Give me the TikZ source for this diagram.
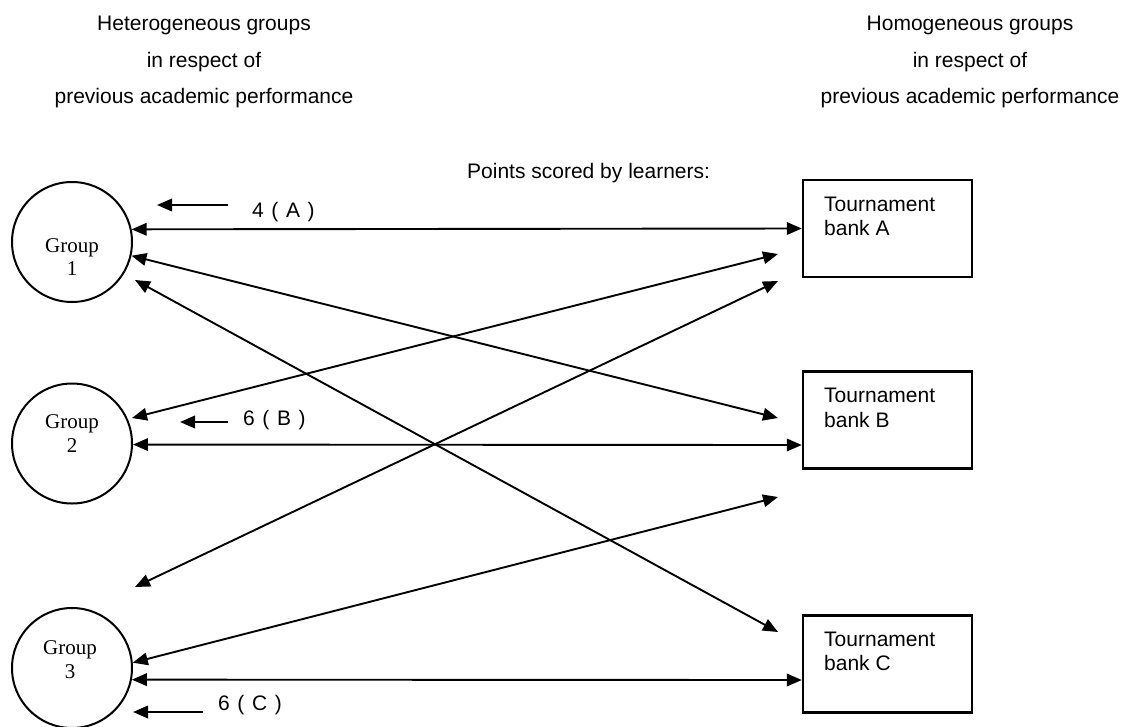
\documentclass[tikz,border=0pt]{standalone}
\usepackage{fontspec}
\newfontfamily\labelsans{Liberation Sans}
\newfontfamily\labelserif{Liberation Serif}
\newcommand\widewordspace{\spaceskip=7.6pt\relax}
\usetikzlibrary{arrows.meta}
\begin{document}
\begin{tikzpicture}[x=1pt,y=-1pt,
  link/.style={line width=1.9pt,
    {Triangle[length=15pt,width=12.5pt]}-{Triangle[length=15pt,width=12.5pt]}},
  pointer/.style={line width=1.9pt,{Triangle[length=15pt,width=12.5pt]}-},
  groupnode/.style={circle,draw,line width=2pt,minimum size=120pt,inner sep=0pt},
  banknode/.style={rectangle,draw,line width=2.4pt,minimum width=169pt,
    minimum height=97pt,inner sep=0pt},
  heading/.style={font=\labelsans\fontsize{21}{36.5}\selectfont,inner sep=0pt,
    align=center,anchor=north},
  sanstext/.style={font=\labelsans\fontsize{21}{24.5}\selectfont,inner sep=0pt},
  scorelabel/.style={font=\labelsans\fontsize{21}{24.5}\selectfont\widewordspace,
    inner sep=0pt,anchor=base west},
  grouptext/.style={font=\labelserif\fontsize{21}{23.5}\selectfont,inner sep=0pt,
    align=center,anchor=north},
]
\useasboundingbox (0,0) rectangle (1124,726);

% column headings
\node[heading] (hetero) at (204,16)
  {Heterogeneous groups\\in respect of\\previous academic performance};
\node[heading] (homo) at (970,16)
  {Homogeneous groups\\in respect of\\previous academic performance};
\node[sanstext,anchor=base west] (points) at (467,178) {Points scored by learners:};

% learner groups
\node[groupnode] (g1) at (72,242) {};
\node[groupnode] (g2) at (72,443.5) {};
\node[groupnode] (g3) at (72,668) {};
\node[grouptext] (g1t) at (72,238.2) {Group\\1};
\node[grouptext] (g2t) at (72,414.5) {Group\\2};
\node[grouptext] (g3t) at (70,640.5) {Group\\3};

% tournament banks
\node[banknode] (ba) at (887.5,228.5) {};
\node[banknode] (bb) at (887.5,420) {};
\node[banknode] (bc) at (887.5,664) {};
\node[sanstext,align=left,anchor=north west] (bat) at (824,196.5) {Tournament\\bank A};
\node[sanstext,align=left,anchor=north west] (bbt) at (824,388.3) {Tournament\\bank B};
\node[sanstext,align=left,anchor=north west] (bct) at (824,631.7) {Tournament\\bank C};

% free arrow ends
\coordinate (g1low) at (135,280);
\coordinate (g2up) at (132,418);
\coordinate (g2low) at (135,587);
\coordinate (bbup) at (778,418);
\coordinate (bclow) at (778,632);
\coordinate (baup) at (778,254);
\coordinate (balow) at (778,281);
\coordinate (bbbelow) at (778,497);

% exchanges between groups and banks
\draw[link] (g1.12) -- (ba.west);
\draw[link] (g1.-13) -- (bbup);
\draw[link] (g1low) -- (bclow);
\draw[link] (g2up) -- (baup);
\draw[link] (g2.-1) -- ([yshift=-25pt]bb.west);
\draw[link] (g2low) -- (balow);
\draw[link] (g3.5) -- (bbbelow);
\draw[link] (g3.-11) -- ([yshift=-16pt]bc.west);

% points returned to the groups
\coordinate (pa1) at (157,205);
\coordinate (pa2) at (228,205);
\coordinate (pb1) at (180,422);
\coordinate (pb2) at (228,422);
\coordinate (pc1) at (133,712);
\coordinate (pc2) at (203,712);
\draw[pointer] (pa1) -- (pa2);
\draw[pointer] (pb1) -- (pb2);
\draw[pointer] (pc1) -- (pc2);
\node[scorelabel] (la) at (252,217) {4 ( A )};
\node[scorelabel] (lb) at (243,425) {6 ( B )};
\node[scorelabel] (lc) at (218,710) {6 ( C )};
\end{tikzpicture}
\end{document}
